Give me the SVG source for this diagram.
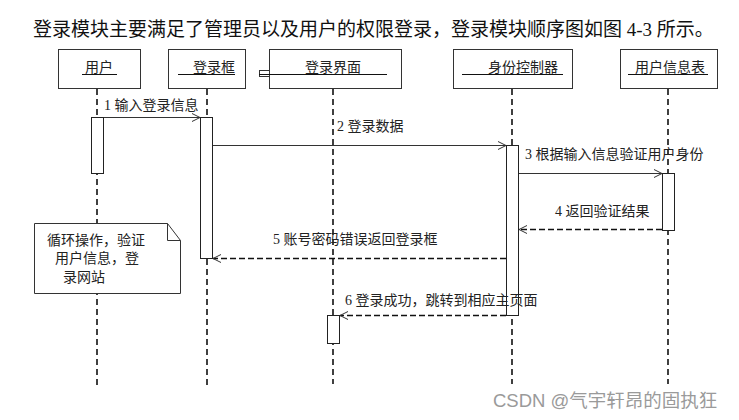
<svg xmlns="http://www.w3.org/2000/svg" width="739" height="420" viewBox="0 0 739 420">
<style>
text{font-family:"Liberation Serif","Noto Sans CJK SC",serif;fill:#111}
.t{font-size:19px}
.lb{font-size:14px;fill:#222}
.box{fill:#fff;stroke:#333;stroke-width:1}
.ul{stroke:#111;stroke-width:1}
.life{stroke:#111;stroke-width:1.6;stroke-dasharray:6 4;fill:none}
.act{fill:#fff;stroke:#222;stroke-width:1}
.msg{stroke:#333;stroke-width:1;fill:none}
.ret{stroke:#111;stroke-width:1.6;stroke-dasharray:6 3;fill:none}
.wm{font-family:"Liberation Sans","Noto Sans CJK SC",sans-serif;font-size:18.5px;fill:#9a9a9a}
</style>
<defs>
<marker id="ah" markerWidth="10" markerHeight="10" refX="9" refY="5" orient="auto" markerUnits="userSpaceOnUse">
<path d="M1,1 L9,5 L1,9" fill="none" stroke="#333" stroke-width="1"/>
</marker>
</defs>
<rect width="739" height="420" fill="#fff"/>
<text class="t" x="33" y="36">登录模块主要满足了管理员以及用户的权限登录，登录模块顺序图如图 4-3 所示。</text>

<g id="lifelines">
<line class="life" x1="97" y1="89" x2="97" y2="386"/>
<line class="life" x1="207" y1="89" x2="207" y2="386"/>
<line class="life" x1="333" y1="89" x2="333" y2="384"/>
<line class="life" x1="512" y1="89" x2="512" y2="384"/>
<line class="life" x1="668" y1="89" x2="668" y2="384"/>
</g>

<g id="user">
<rect class="box" x="58.5" y="49.5" width="82" height="39"/>
<text class="lb" x="99" y="72" text-anchor="middle">用户</text>
<line class="ul" x1="82" y1="74.5" x2="117" y2="74.5"/>
<rect class="act" x="91.5" y="117.5" width="12" height="56"/>
</g>
<g id="loginbox">
<rect class="box" x="168.5" y="49.5" width="77" height="39"/>
<text class="lb" x="214" y="72" text-anchor="middle">登录框</text>
<line class="ul" x1="178" y1="74.5" x2="235" y2="74.5"/>
<rect class="act" x="200.5" y="117.5" width="12" height="141"/>
</g>
<g id="loginui">
<rect class="box" x="269.5" y="49.5" width="132" height="39"/>
<rect class="box" x="259.5" y="70.5" width="10" height="6"/>
<text class="lb" x="333" y="72" text-anchor="middle">登录界面</text>
<line class="ul" x1="259" y1="74.5" x2="387" y2="74.5"/>
<rect class="act" x="327.5" y="315.5" width="12" height="28"/>
</g>
<g id="authctrl">
<rect class="box" x="453.5" y="49.5" width="119" height="39"/>
<text class="lb" x="523" y="72" text-anchor="middle">身份控制器</text>
<line class="ul" x1="462" y1="74.5" x2="563" y2="74.5"/>
<rect class="act" x="506.5" y="145.5" width="12" height="170"/>
</g>
<g id="usertable">
<rect class="box" x="620.5" y="49.5" width="97" height="39"/>
<text class="lb" x="670" y="72" text-anchor="middle">用户信息表</text>
<line class="ul" x1="628" y1="74.5" x2="708" y2="74.5"/>
<rect class="act" x="662.5" y="173.5" width="12" height="57"/>
</g>

<g id="note">
<path d="M34.5,223.5 H167.5 L180.5,240.5 V293.5 H34.5 Z" fill="#fff" stroke="#333" stroke-width="1"/>
<path d="M167.5,223.5 V240.5 H180.5" fill="none" stroke="#333" stroke-width="1"/>
<text class="lb" x="47" y="245">循环操作，验证</text>
<text class="lb" x="55" y="263">用户信息，登</text>
<text class="lb" x="63" y="282">录网站</text>
</g>

<g id="connectors">
<line class="msg" x1="104" y1="117.5" x2="200" y2="117.5" marker-end="url(#ah)"/>
<text class="lb" x="104" y="110">1 输入登录信息</text>
<line class="msg" x1="213" y1="145.5" x2="506" y2="145.5" marker-end="url(#ah)"/>
<text class="lb" x="337" y="131">2 登录数据</text>
<line class="msg" x1="519" y1="173.5" x2="662" y2="173.5" marker-end="url(#ah)"/>
<text class="lb" x="525" y="159">3 根据输入信息验证用户身份</text>
<line class="ret" x1="662" y1="229.5" x2="519" y2="229.5" marker-end="url(#ah)"/>
<text class="lb" x="555" y="216">4 返回验证结果</text>
<line class="ret" x1="506" y1="258.5" x2="213" y2="258.5" marker-end="url(#ah)"/>
<text class="lb" x="273" y="244">5 账号密码错误返回登录框</text>
<line class="ret" x1="506" y1="315.5" x2="340" y2="315.5" marker-end="url(#ah)"/>
<text class="lb" x="345" y="305">6 登录成功，跳转到相应主页面</text>
</g>

<text class="wm" x="493" y="407">CSDN @气宇轩昂的固执狂</text>
</svg>
